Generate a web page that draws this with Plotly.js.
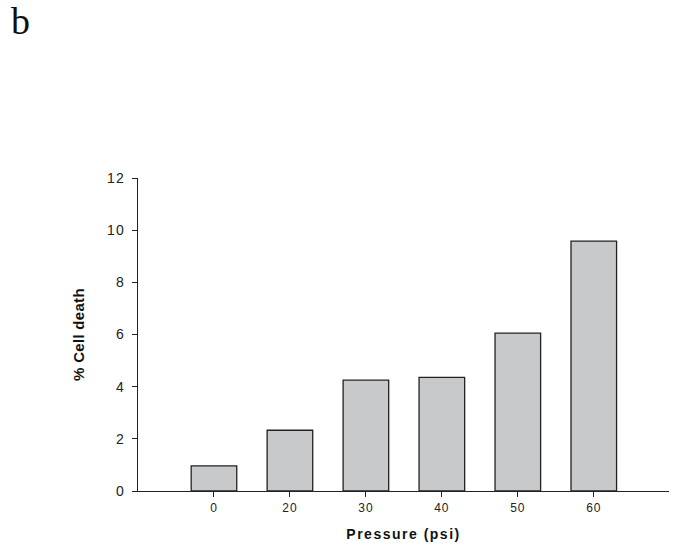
<!DOCTYPE html>
<html>
<head>
<meta charset="utf-8">
<script src="https://cdn.plot.ly/plotly-3.0.1.min.js"></script>
<style>
html,body{margin:0;padding:0;background:#fff;}
#chart{width:680px;height:553px;}
.xtitle{letter-spacing:1.5px;}
.ytitle{letter-spacing:0.3px;}
.xtick text{letter-spacing:0.9px;}
.ytick text{letter-spacing:1.2px;}
</style>
</head>
<body>
<div id="chart"></div>
<script>
const pressure = ['0', '20', '30', '40', '50', '60'];
const cellDeath = [0.96, 2.33, 4.25, 4.36, 6.05, 9.58];
const yTickVals = [0, 2, 4, 6, 8, 10, 12];

const trace = {
  type: 'bar',
  x: pressure,
  y: cellDeath,
  width: 0.6,
  marker: {color: '#c8c9ca', line: {color: '#222222', width: 1.3}},
  hoverinfo: 'x+y'
};

const layout = {
  width: 680,
  height: 553,
  margin: {l: 138, r: 11, t: 178, b: 62},
  paper_bgcolor: '#ffffff',
  plot_bgcolor: '#ffffff',
  showlegend: false,
  font: {family: 'Arial, "Liberation Sans", sans-serif', color: '#222222'},
  xaxis: {
    type: 'category',
    range: [-1, 5.99],
    showgrid: false,
    zeroline: false,
    showline: true,
    linecolor: '#222222',
    linewidth: 1.2,
    ticks: 'outside',
    ticklen: 5,
    tickcolor: '#222222',
    tickfont: {size: 12, color: '#222222'},
    title: {text: 'Pressure (psi)', font: {size: 14, weight: 'bold', color: '#111111'}, standoff: 15}
  },
  yaxis: {
    range: [0, 12],
    tickvals: yTickVals,
    showgrid: false,
    zeroline: false,
    showline: true,
    linecolor: '#222222',
    linewidth: 1.2,
    ticks: 'outside',
    ticklen: 5,
    tickcolor: '#222222',
    ticklabelstandoff: 4,
    tickfont: {size: 14, color: '#222222'},
    title: {text: '% Cell death', font: {size: 15, weight: 'bold', color: '#111111'}, standoff: 18}
  },
  annotations: [{
    text: 'b',
    xref: 'paper', yref: 'paper',
    x: -0.243, y: 1.575,
    xanchor: 'left', yanchor: 'top',
    showarrow: false,
    font: {family: '"Liberation Serif", "Times New Roman", serif', size: 38, color: '#111111'}
  }]
};

Plotly.newPlot('chart', [trace], layout, {displayModeBar: false, staticPlot: true});
</script>
</body>
</html>
